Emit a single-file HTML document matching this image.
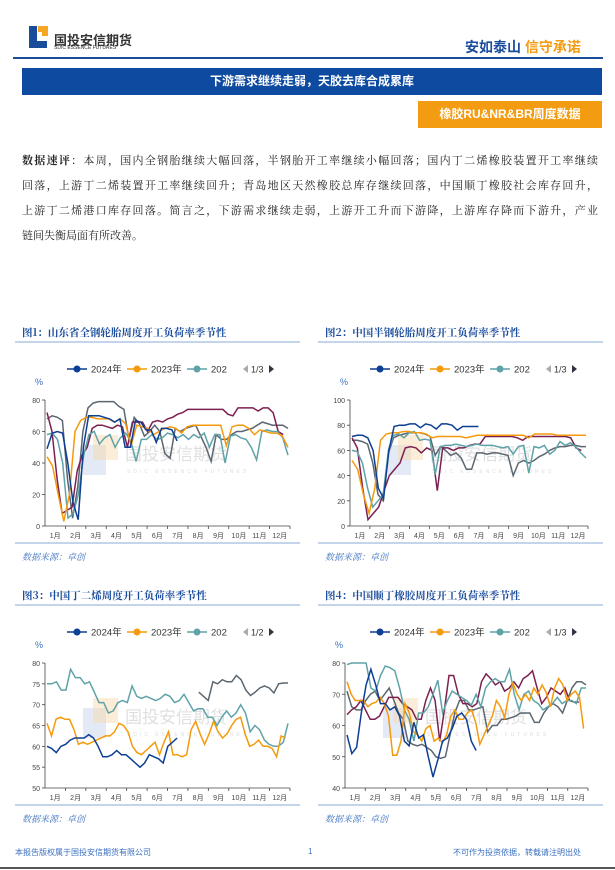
<!DOCTYPE html>
<html><head><meta charset="utf-8"><style>
body{margin:0;width:615px;height:870px;background:#fff;position:relative;overflow:hidden;font-family:"Liberation Sans","Noto Sans CJK SC",sans-serif}
.a{position:absolute;white-space:nowrap}
.ln{position:absolute;left:22px;width:576px;font-size:11px;color:#222;text-align:justify;text-align-last:justify;font-family:"Noto Serif CJK SC","Liberation Serif",serif}
</style></head><body>
<div class="a" style="left:29px;top:26px;width:8px;height:22px;background:#1a4c9c"></div>
<div class="a" style="left:29px;top:41px;width:18px;height:7px;background:#1a4c9c"></div>
<div class="a" style="left:38px;top:26px;width:10px;height:6px;background:#f5a623"></div>
<div class="a" style="left:42px;top:26px;width:6px;height:10px;background:#f5a623"></div>
<div class="a" style="left:54px;top:30px;font-size:13px;color:#333;font-weight:bold">国投安信期货</div>
<div class="a" style="left:54px;top:45px;font-size:5px;color:#333">SDIC ESSENCE FUTURES</div>
<div class="a" style="left:465px;top:37px;font-size:14px;font-weight:bold;color:#1a4c9c">安如泰山 <span style="color:#f39c12">信守承诺</span></div>
<div class="a" style="left:13px;top:57px;width:590px;height:1.5px;background:#1a4c9c"></div>
<div class="a" style="left:22px;top:68px;width:580px;height:27px;background:#0d4aa0;color:#fff;font-size:12px;font-weight:bold;text-align:center;line-height:27px">下游需求继续走弱，天胶去库合成累库</div>
<div class="a" style="left:418px;top:101px;width:184px;height:27px;background:#f39c12;color:#fff;font-size:12px;font-weight:bold;text-align:center;line-height:27px">橡胶RU&amp;NR&amp;BR周度数据</div>
<div class="ln" style="top:152px"><b>数据速评</b>：本周，国内全钢胎继续大幅回落，半钢胎开工率继续小幅回落；国内丁二烯橡胶装置开工率继续</div>
<div class="ln" style="top:177px">回落，上游丁二烯装置开工率继续回升；青岛地区天然橡胶总库存继续回落，中国顺丁橡胶社会库存回升，</div>
<div class="ln" style="top:202px">上游丁二烯港口库存回落。简言之，下游需求继续走弱，上游开工升而下游降，上游库存降而下游升，产业</div>
<div class="ln" style="top:227px;text-align-last:left">链间失衡局面有所改善。</div>
<svg id="s" class="a" style="left:0;top:0" width="615" height="870"></svg>
<div class="a" style="left:15px;top:847px;font-size:8px;color:#3a6fc0">本报告版权属于国投安信期货有限公司</div>
<div class="a" style="left:308px;top:847px;font-size:8px;color:#3a6fc0">1</div>
<div class="a" style="left:453px;top:847px;font-size:8px;color:#3a6fc0">不可作为投资依据，转载请注明出处</div>
<div class="a" style="left:0;top:867px;width:615px;height:1.5px;background:#555"></div>
<script>
const S=document.getElementById('s');let h='';
const C={a:'#0d3f94',b:'#f59a0c',c:'#5fa3a8',d:'#7b2050',e:'#5b6670'};
function chart(o){
 const {x0,tx,yT,yB,x1,min,max,step,title,page,series,ox}=o;
 h+=`<text x="${ox+7}" y="${yT-64}" font-size="10.5" font-weight="bold" fill="#1a4c9c" font-family="Noto Serif CJK SC,serif">${title}</text>`;
 h+=`<line x1="${ox}" x2="${ox+285}" y1="${yT-58}" y2="${yT-58}" stroke="#8aa8d4" stroke-width="1"/>`;
 const ly=yT-31;let lx=ox+52;
 [['2024年',C.a],['2023年',C.b],['202',C.c]].forEach(([t,c],i)=>{h+=`<line x1="${lx}" x2="${lx+20}" y1="${ly}" y2="${ly}" stroke="${c}" stroke-width="1.5"/><circle cx="${lx+10}" cy="${ly}" r="3.5" fill="${c}"/><text x="${lx+24}" y="${ly+3.5}" font-size="9.5" fill="#333">${t}</text>`;lx+=i==2?45:60;});
 h+=`<path d="M${ox+228} ${ly}l5 -4v8z" fill="#aaa"/><text x="${ox+236}" y="${ly+3.5}" font-size="9" fill="#333">${page}</text><path d="M${ox+254} ${ly-4}l5 4l-5 4z" fill="#334"/>`;
 h+=`<text x="${x0-10}" y="${yT-15}" font-size="9" fill="#3a6fc0">%</text>`;
 h+=`<rect x="${x0+38}" y="${yT+45}" width="23" height="30" fill="#c8d4ec" opacity=".5"/><rect x="${x0+48}" y="${yT+35}" width="25" height="25" fill="#f7dcb0" opacity=".5"/><text x="${x0+80}" y="${yT+60}" font-size="17" fill="#d8d8d8" opacity=".8">国投安信期货</text><text x="${x0+82}" y="${yT+73}" font-size="5" fill="#ddd" letter-spacing="3">SDIC ESSENCE FUTURES</text>`;
 const Y=v=>yB-(v-min)/(max-min)*(yB-yT);
 h+=`<line x1="${x0}" x2="${x0}" y1="${yT}" y2="${yB}" stroke="#444" stroke-width=".8"/><line x1="${x0}" x2="${x1}" y1="${yB}" y2="${yB}" stroke="#444" stroke-width=".8"/>`;
 for(let v=min;v<=max;v+=step){h+=`<line x1="${x0-3}" x2="${x0}" y1="${Y(v)}" y2="${Y(v)}" stroke="#444" stroke-width=".8"/><text x="${x0-5}" y="${Y(v)+3}" font-size="7" fill="#444" text-anchor="end">${v}</text>`;}
 const w=(x1-x0)/12;
 for(let m=0;m<12;m++){h+=`<line x1="${x0+(m+1)*w}" x2="${x0+(m+1)*w}" y1="${yB}" y2="${yB+3}" stroke="#444" stroke-width=".8"/><text x="${x0+(m+.5)*w}" y="${yB+12}" font-size="7" fill="#444" text-anchor="middle">${m+1}月</text>`;}
 series.forEach(([k,arr,s,e])=>{const n=arr.length;const p=arr.map((v,i)=>((x0+2+(s+(e-s)*i/(n-1))*(x1-x0-4)).toFixed(1))+','+Y(v).toFixed(1)).join(' ');h+=`<polyline points="${p}" fill="none" stroke="${C[k]}" stroke-width="1.5"/>`;});
 h+=`<line x1="${ox}" x2="${ox+285}" y1="${yB+17}" y2="${yB+17}" stroke="#8aa8d4" stroke-width="1"/><text x="${ox+7}" y="${yB+34}" font-size="9" fill="#3a6fc0" font-style="italic" font-family="Noto Serif CJK SC,serif">数据来源：卓创</text>`;
}
chart({ox:15,x0:45,x1:290,yT:400,yB:526,min:0,max:80,step:20,title:'图1：山东省全钢轮胎周度开工负荷率季节性',page:'1/3',series:[
['e',[68,70,69,67,30,5,25,60,75,78,79,79,79,79,76,74,55,69,65,57,60,64,60,46,43,62,60,62,63,64,57,50,41,58,55,55,58,60,60,61,62,64,66,65,64,64,64,62],0,1],
['d',[72,60,30,8,10,12,35,45,50,62,64,64,63,62,64,63,50,66,66,66,60,66,67,66,68,69,71,72,74,74,74,74,74,74,74,74,71,70,75,75,75,75,73,75,75,72,60,58],0,.98],
['c',[58,59,55,40,5,8,20,45,58,60,52,56,58,50,56,59,54,41,55,55,58,55,56,59,58,56,58,55,58,56,59,50,58,58,40,57,58,56,55,50,42,60,61,60,60,56,45],0,1],
['b',[44,38,20,3,20,60,67,69,69,68,68,68,66,68,65,51,64,63,62,58,60,62,63,62,59,63,64,64,64,64,64,64,51,63,64,64,62,58,61,60,59,59,57,50],0,1],
['a',[49,59,60,59,40,15,4,50,70,70,70,69,68,66,68,50,50,67,66,61,61,53,62,62,61,54],0,.54]]});
chart({ox:318,x0:350,x1:588,yT:400,yB:526,min:0,max:100,step:20,title:'图2：中国半钢轮胎周度开工负荷率季节性',page:'1/3',series:[
['e',[68,68,67,65,50,25,20,58,70,72,73,74,74,74,73,71,56,63,60,56,58,54,45,45,58,58,57,58,58,57,56,40,50,52,50,52,55,57,60,62,63,63,64,64,63,63],0,1],
['d',[70,62,30,5,10,15,28,40,45,50,62,63,62,58,62,60,28,62,62,60,62,62,64,65,65,71,71,71,71,71,71,70,68,71,71,71,71,71,71,71,71,70,62,60],0,.98],
['c',[60,59,50,30,15,20,25,60,72,73,70,74,75,68,69,68,41,63,64,64,65,64,63,64,65,64,64,64,63,62,63,57,63,64,42,63,62,64,57,60,67,64,66,63,58,54],0,1],
['b',[52,45,25,10,30,68,73,74,74,75,75,74,74,73,70,71,71,71,71,71,70,71,72,72,72,72,72,72,72,72,72,70,73,73,73,73,72,72,72,72,72,72],0,1],
['a',[71,72,72,70,60,30,22,60,79,80,80,81,81,78,81,80,77,81,81,80,76,79,79,79,79],0,.54]]});
chart({ox:15,x0:45,x1:290,yT:663,yB:788,min:50,max:80,step:5,title:'图3：中国丁二烯周度开工负荷率季节性',page:'1/2',series:[
['e',[73,72,71,75.5,75,76,75.5,75.5,77,76,73.5,72.2,73,74,74.5,74,72.8,75,75.2,75.2],.63,1],
['c',[75,75,75.5,73.5,73.5,78.5,76.5,76.5,75,75.5,73,70.5,70.5,68,68.5,70.5,71,70.5,74.5,72,71.5,72,71.5,71,71.5,72.5,72,70.5,71,72.5,70.5,68.5,69,69,67,67,65,67,68.5,67,68,70,68,63.5,65,64,61.5,60.5,60,60,61,65.5],0,1],
['b',[65.5,62.5,66.5,67,66.5,66.5,64,60.5,61,60.5,61,61.5,62,62.5,62.5,63.5,65.5,65,63.5,60,58.5,58,59,60,61,58,61,63.5,58,58,57.5,58,64,66,63,60.5,63,66,63.5,62,63,65,66.5,67,63,60,60.5,61.5,60,60,59.5,57.5,62.5,62],0,.99],
['a',[60,59.5,58.5,60,60.5,61.5,62,62,62,62.8,62,60,57.5,57.5,58,59,58,58,57,56,55,56,58,57.5,57,56,60,61,62],0,.54]]});
chart({ox:318,x0:345,x1:588,yT:663,yB:788,min:40,max:80,step:10,title:'图4：中国顺丁橡胶周度开工负荷率季节性',page:'1/3',series:[
['e',[71,66,65,65,68,70,71,68,70,72,68,64,62,55,54,53.5,54,53,52,50,49.5,50,57,64,68,68,65,65,65.5,66,58,60,60,62,62,62.5,63,64,64,64,61,61,64,66,67,66,64,68,72,74,74,73],0,1],
['d',[63.5,65,66,68,65,62,62,63,66,69,69,69,67,66,65,62,62,68,72,68,55,65,76,76,70,67,67,66,67,74,76.5,75,73,74,71,72,74,72,75,76,77.5,72,67,69,72,71,70,72,68,67.5,67.5],0,.97],
['c',[79.5,80,80,80,80,72,71,76,79,78.5,77.5,72,65,62,55,64,64,66,70,74.5,64,68,71,70,69,68,66.5,70,66,72,74,75,74,74,78,70,65,70,71,68,67,65,66,67,69,67,68,68,67,72,72],0,1],
['b',[74,70,68,68,68,66,67,67.5,69,67,63,50.5,50.5,55,67,64,58,57,55,59,60,55,56,54.5,57,63,65,62,62,64,65,61,54,57,60,63,68,66,62.5,70,73.5,70,68,70,68,72,70,73,70.5,66,72,75,73,68,70,71,69,59],0,.99],
['a',[57,51,53,64,73,78,73,67,67,65,66,63,55,53.5,61,56,57,50,43.5,49,55,56,59,63,64,62,55,52],0,.54]]});
S.innerHTML=h;
</script>
</body></html>
